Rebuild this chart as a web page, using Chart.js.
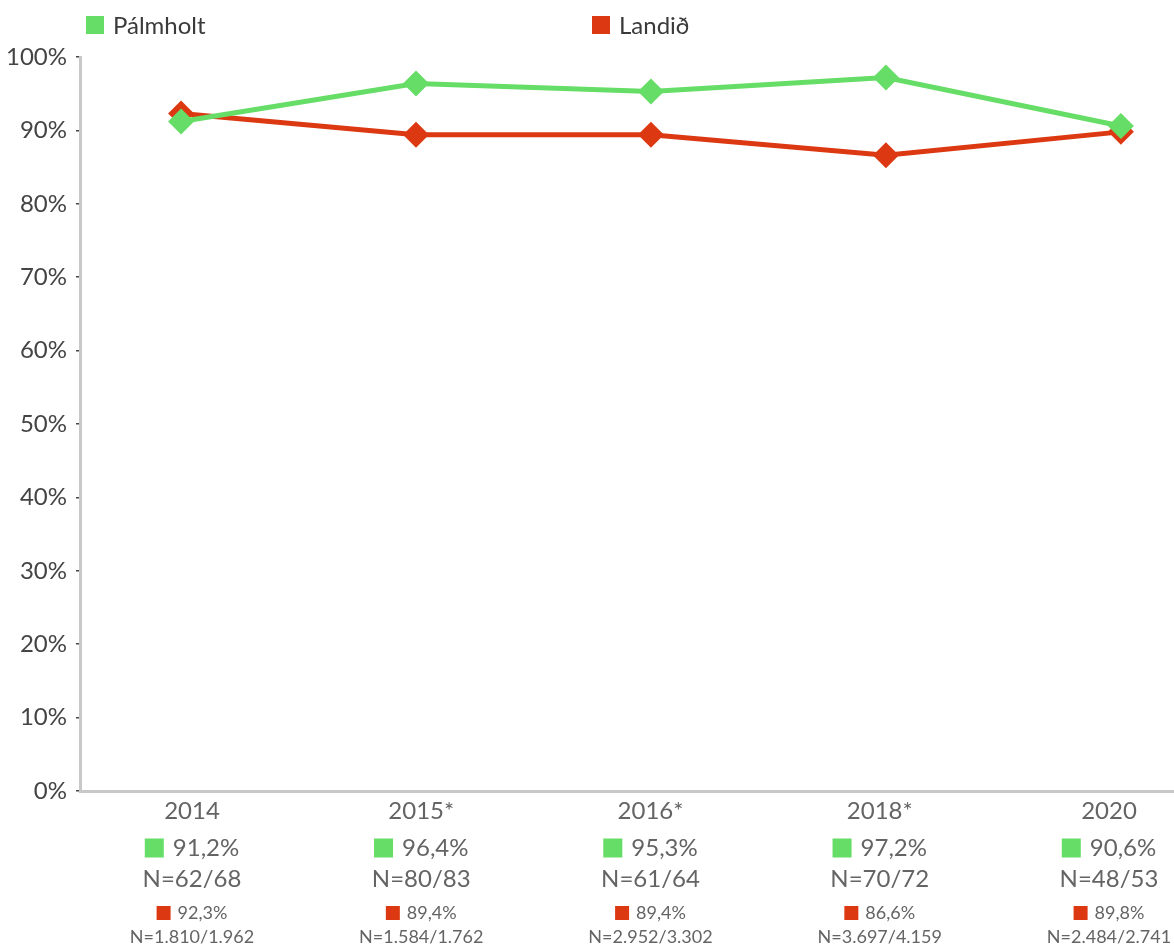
<!DOCTYPE html>
<html>
<head>
<meta charset="utf-8">
<script src="https://cdn.jsdelivr.net/npm/chart.js@4"></script>
<style>
  body { margin: 0; background: #fff; font-family: Lato, sans-serif; }
  #wrap { position: relative; width: 1174px; height: 947px; }
  .leg { position: absolute; top: 10px; font-size: 24px; color: #3a3a3a; display: flex; align-items: center; }
  .leg span { display: inline-block; width: 18px; height: 18px; margin-right: 9px; }
</style>
</head>
<body>
<div id="wrap">
  <div class="leg" style="left:86px"><span style="background:#66dd66"></span>Pálmholt</div>
  <div class="leg" style="left:592px"><span style="background:#dc3912"></span>Landið</div>
  <canvas id="chart"></canvas>
</div>
<script>
// Ár og hlutföll
const years = ['2014', '2015*', '2016*', '2018*', '2020'];
const palmholt = [91.2, 96.4, 95.3, 97.2, 90.6];
const landid = [92.3, 89.4, 89.4, 86.6, 89.8];
const palmholtN = ['N=62/68', 'N=80/83', 'N=61/64', 'N=70/72', 'N=48/53'];
const landidN = ['N=1.810/1.962', 'N=1.584/1.762', 'N=2.952/3.302', 'N=3.697/4.159', 'N=2.484/2.741'];
const yTicks = [0, 10, 20, 30, 40, 50, 60, 70, 80, 90, 100];

const GREEN = '#66dd66';
const RED = '#dc3912';
const FONT = 'Lato, sans-serif';
const TEXT = '#646464';

const fmt = v => v.toFixed(1).replace('.', ',') + '%';

// Teiknar ártöl og tölur undir x-ásnum
const bottomLabels = {
  id: 'bottomLabels',
  afterDraw(chart) {
    const ctx = chart.ctx;
    const sx = chart.scales.lbl;
    ctx.save();
    ctx.textBaseline = 'middle';
    years.forEach((yr, i) => {
      const x = sx.getPixelForValue(i);
      ctx.textAlign = 'center';
      ctx.font = '24px ' + FONT;
      ctx.fillStyle = TEXT;
      ctx.fillText(yr, x, 811);
      ctx.fillText(palmholtN[i], x, 879);

      const swatchText = (txt, color, size, sq, gap, y) => {
        ctx.font = size + 'px ' + FONT;
        const w = ctx.measureText(txt).width;
        const left = x - (sq + gap + w) / 2;
        ctx.fillStyle = color;
        ctx.fillRect(left, y - sq / 2, sq, sq);
        ctx.fillStyle = TEXT;
        ctx.textAlign = 'left';
        ctx.fillText(txt, left + sq + gap, y);
        ctx.textAlign = 'center';
      };
      swatchText(fmt(palmholt[i]), GREEN, 24, 19, 9, 848);
      swatchText(fmt(landid[i]), RED, 18, 14, 7, 913);

      ctx.font = '18px ' + FONT;
      ctx.fillStyle = TEXT;
      ctx.fillText(landidN[i], x, 937);
    });
    ctx.restore();
  }
};

const toPoints = arr => arr.map((v, i) => ({ x: i, y: v }));

new Chart(document.getElementById('chart'), {
  type: 'line',
  data: {
    datasets: [
      {
        label: 'Pálmholt',
        data: toPoints(palmholt),
        borderColor: GREEN,
        backgroundColor: GREEN,
        borderWidth: 5,
        pointStyle: 'rectRot',
        pointRadius: 13,
        pointHoverRadius: 13,
        pointBorderWidth: 0,
        tension: 0
      },
      {
        label: 'Landið',
        data: toPoints(landid),
        borderColor: RED,
        backgroundColor: RED,
        borderWidth: 5,
        pointStyle: 'rectRot',
        pointRadius: 13,
        pointHoverRadius: 13,
        pointBorderWidth: 0,
        tension: 0
      }
    ]
  },
  options: {
    responsive: true,
    maintainAspectRatio: false,
    animation: false,
    layout: { autoPadding: false, padding: { top: 57, right: 0, left: 0, bottom: 0 } },
    plugins: {
      legend: { display: false },
      tooltip: { enabled: false }
    },
    scales: {
      x: {
        type: 'linear',
        min: -0.43,
        max: 4.226,
        grid: { display: false },
        border: { display: true, color: '#c8c8c8', width: 3 },
        ticks: { display: false },
        afterFit(scale) { scale.height = 156; }
      },
      lbl: {
        type: 'linear',
        axis: 'x',
        position: 'bottom',
        display: false,
        min: -0.4886,
        max: 4.2835
      },
      y: {
        min: 0,
        max: 100,
        afterBuildTicks(scale) { scale.ticks = yTicks.map(v => ({ value: v })); },
        grid: { drawOnChartArea: false, tickLength: 4, color: '#444', lineWidth: 1.5 },
        border: { display: true, color: '#c8c8c8', width: 3 },
        ticks: {
          padding: 9,
          color: '#444',
          font: { family: FONT, size: 24 },
          callback: v => v + '%'
        },
        afterFit(scale) { scale.width = 80; }
      }
    }
  },
  plugins: [bottomLabels]
});
</script>
</body>
</html>
